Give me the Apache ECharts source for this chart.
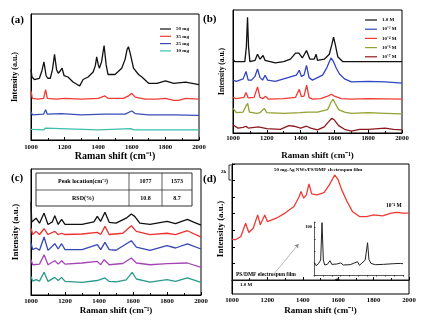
<!DOCTYPE html>
<html><head><meta charset="utf-8">
<script src="https://cdn.jsdelivr.net/npm/echarts@6/dist/echarts.min.js"></script>
<style>html,body{margin:0;padding:0;background:#fff}#c{width:421px;height:326px}</style>
</head><body><div id="c"></div>
<script>
// ---------- data ----------
const xTicks = [1000, 1200, 1400, 1600, 1800, 2000];
// panel (a)
const legendA = ['50 mg', '35 mg', '25 mg', '10 mg'];
const a50 = [[1000,56],[1006,50],[1020,48],[1050,49],[1065,55],[1077,62],[1090,51],[1100,49],[1115,49],[1128,56],[1140,68],[1152,56],[1162,53],[1175,55],[1185,57],[1197,51],[1220,50],[1250,46],[1275,44],[1290,43],[1310,48],[1340,50],[1370,54],[1383,59],[1391,66],[1400,60],[1407,57],[1420,62],[1435,75],[1447,60],[1458,52],[1500,52],[1540,57],[1560,64],[1572,72],[1580,74],[1592,68],[1610,57],[1640,52],[1660,50],[1700,45],[1750,45],[1800,47],[1850,45],[1920,46],[1960,45],[2000,44]];
const a35 = [[1000,39],[1008,33],[1040,32.5],[1075,33],[1087,40],[1097,33],[1150,32.5],[1200,33],[1300,32.5],[1400,33],[1440,35],[1460,33],[1550,33],[1580,35],[1600,37],[1620,34],[1680,32.5],[1750,32.5],[1800,33],[1850,31.5],[1880,31.5],[1920,33],[2000,32.5]];
const a25 = [[1000,22.5],[1008,20],[1075,20.5],[1087,24],[1097,20.5],[1180,21],[1300,20],[1440,20.5],[1560,20.5],[1600,23],[1620,21],[1700,20],[1850,20],[2000,19.5]];
const a10 = [[1000,8.5],[1075,8],[1087,9.5],[1097,8],[1400,8],[1595,9],[1610,8],[2000,8]];
// panel (b)
const legendB = ['1.0 M', '10\u207B\u00B2 M', '10\u207B\u2074 M', '10\u207B\u2076 M', '10\u207B\u2077 M'];
const b0 = [[1000,60],[1010,58],[1070,58],[1079,70],[1086,94],[1092,70],[1100,58],[1130,59],[1145,64],[1160,60],[1178,63],[1190,59],[1250,57],[1300,58],[1340,60],[1370,65],[1390,65],[1410,61],[1435,67],[1455,60],[1480,60],[1492,64],[1500,59],[1540,60],[1570,64],[1585,72],[1595,78],[1605,72],[1620,62],[1650,58],[1700,58],[2000,58]];
const b2 = [[1000,43],[1020,42],[1060,44],[1077,50],[1090,43],[1110,43],[1130,46],[1145,52],[1160,45],[1175,43],[1190,47],[1205,43],[1250,42],[1300,44],[1350,46],[1375,47],[1392,51],[1405,46],[1420,47],[1435,55],[1450,45],[1470,43],[1500,45],[1530,47],[1555,53],[1570,58],[1580,61],[1595,58],[1610,53],[1630,48],[1660,44],[1700,41.5],[1800,42],[1900,41.5],[2000,40.5]];
const b4 = [[1000,29],[1020,28],[1065,29],[1077,33],[1090,28.5],[1125,29],[1145,37.5],[1160,29],[1178,28],[1192,30],[1210,27.5],[1300,28],[1370,29],[1392,35.5],[1405,29.5],[1420,30],[1436,39],[1450,29],[1470,27.5],[1520,28],[1560,30],[1582,31.5],[1600,30],[1640,28],[1700,27.5],[1800,28],[2000,27.5]];
const b6 = [[1000,20],[1020,16.5],[1060,17],[1077,22],[1087,24],[1097,17],[1140,16],[1160,16.5],[1185,20],[1200,16.5],[1300,16],[1400,16.5],[1440,17],[1500,17],[1560,19],[1580,25],[1592,27.5],[1605,24],[1625,19],[1660,17],[1700,16],[1800,16.5],[1900,16],[2000,15.5]];
const b7 = [[1000,6.5],[1030,4],[1060,4.5],[1077,5.5],[1090,4],[1150,5],[1200,3.5],[1280,3],[1330,6],[1360,5.5],[1400,4],[1435,5.5],[1460,4],[1500,2.5],[1540,5],[1565,9],[1585,12],[1600,10.5],[1625,6],[1660,3],[1700,1.5],[1750,3],[1800,3],[1900,4],[1950,3],[2000,2.5]];
// panel (c)
const tableHead = ['Peak location(cm\u207B\u00B9)', '1077', '1573'];
const tableRow = ['RSD(%)', '10.8', '8.7'];
const c1 = [[1000,74],[1004,58],[1030,61],[1050,57],[1077,65],[1100,56],[1125,58],[1140,63],[1160,56],[1180,60],[1200,56],[1300,56],[1370,58],[1390,62.4],[1410,58.5],[1435,65.6],[1460,57.7],[1500,57],[1560,61],[1590,64.3],[1610,62.4],[1640,57],[1700,56],[1800,58.5],[1850,56.6],[1920,60],[1960,57.7],[2000,55.5]];
const c2 = [[1000,53],[1010,48],[1030,50.5],[1050,48],[1077,52.6],[1100,48],[1140,50.5],[1160,48],[1180,49],[1200,48],[1300,48.4],[1390,49.7],[1410,48],[1435,54.5],[1460,48],[1540,49],[1590,55],[1620,50.5],[1700,47.9],[1800,49],[1850,47.9],[1920,51],[2000,46]];
const c3 = [[1000,41.3],[1010,36],[1030,37.3],[1050,35.5],[1077,46],[1100,35.4],[1140,40.7],[1160,36.5],[1180,40.7],[1200,36],[1300,36],[1390,39.9],[1410,36],[1435,41.8],[1460,36],[1500,35.5],[1590,43.1],[1620,38],[1700,35.4],[1800,39.1],[1850,37.3],[1920,40.5],[2000,36.5]];
const c4 = [[1000,28],[1010,24],[1050,24.5],[1077,32],[1100,24],[1140,27.2],[1160,24.5],[1180,27.2],[1200,24.5],[1300,25.4],[1390,26.7],[1410,24],[1430,28],[1460,24],[1540,25],[1590,29.4],[1620,25.4],[1700,24],[1800,24.9],[1920,25.4],[2000,22]];
const c5 = [[1000,14.8],[1010,11],[1030,12.2],[1050,11],[1077,18],[1100,10.8],[1140,14],[1160,11.5],[1180,14],[1200,10.8],[1300,10],[1390,11.5],[1435,13.5],[1460,10.8],[1500,10.5],[1560,12],[1595,18],[1620,12.7],[1700,10.3],[1800,12.2],[1850,10.8],[1920,13.5],[2000,10]];
// panel (d)  (units: 2k counts per tick)
const dFilm = [[1000,2.47],[1020,2.43],[1050,2.63],[1077,3.43],[1095,2.87],[1120,3.13],[1145,3.93],[1160,3.33],[1185,3.93],[1200,3.53],[1250,3.73],[1300,4.04],[1350,4.44],[1380,5.04],[1390,5.34],[1405,4.94],[1420,5.14],[1435,5.8],[1450,5.2],[1480,5.14],[1520,5.28],[1550,5.74],[1580,6.34],[1600,6.04],[1620,5.44],[1650,4.74],[1680,4.14],[1720,3.83],[1760,3.83],[1800,3.93],[1850,3.87],[1900,4.04],[1930,4.08],[1970,4.04],[2000,4.04]];
const dBlank = [[1000,0],[1080,0],[1088,0.05],[1096,0],[1580,0],[1595,0.06],[1610,0],[2000,0]];
const dTicks = [0, 1, 2, 3, 4, 5, 6, 7];
// inset of (d): 1.0 M spectrum
const inset = [[1000,25.5],[1023,19.4],[1049,23.2],[1075,31],[1090,108.6],[1105,31],[1120,20.8],[1150,22.1],[1180,29.7],[1200,22],[1256,22.8],[1300,25],[1330,20.8],[1406,21.4],[1489,27.6],[1511,20.1],[1575,31],[1602,67],[1617,32.4],[1640,24],[1690,21.4],[1782,22.1],[1895,23.5],[1970,24],[2000,23.5]];

// ---------- chart ----------
const FONT = 'Liberation Serif';
const chart = echarts.init(document.getElementById('c'), null, {renderer: 'canvas'});
function grid(l, t, w, h, border) {
  return {left: l, top: t, width: w, height: h, show: border, borderColor: '#000', borderWidth: 1, backgroundColor: 'transparent', containLabel: false};
}
function xAx(gi, labelMargin, nameGap, nameSize) {
  return {type: 'value', gridIndex: gi, min: 1000, max: 2000, interval: 200,
    axisLine: {show: true, lineStyle: {color: '#000', width: 1}},
    axisTick: {inside: true, length: 3, lineStyle: {color: '#000'}},
    minorTick: {show: true, splitNumber: 2, length: 2, lineStyle: {color: '#000'}},
    splitLine: {show: false},
    axisLabel: {margin: labelMargin, fontFamily: FONT, fontWeight: 'bold', fontSize: 6.8, color: '#000', formatter: v => String(v)},
    name: 'Raman shift (cm\u207B\u00B9)', nameLocation: 'middle', nameGap: nameGap,
    nameTextStyle: {fontFamily: FONT, fontWeight: 'bold', fontSize: nameSize, color: '#000'}};
}
function yAx(gi, nameGap, nameSize) {
  return {type: 'value', gridIndex: gi, min: 0, max: 100,
    axisLine: {show: true, lineStyle: {color: '#000'}}, axisTick: {show: false},
    axisLabel: {show: false}, splitLine: {show: false},
    name: 'Intensity (a.u.)', nameLocation: 'middle', nameGap: nameGap,
    nameTextStyle: {fontFamily: FONT, fontWeight: 'bold', fontSize: nameSize, color: '#000'}};
}
function line(name, data, color, xi) {
  return {type: 'line', name: name, data: data, xAxisIndex: xi, yAxisIndex: xi, symbol: 'none',
    lineStyle: {color: color, width: 1.3}, itemStyle: {color: color}, silent: true, animation: false};
}
const legendText = {fontFamily: FONT, fontWeight: 'bold', fontSize: 5, color: '#000', lineHeight: 6};

const yD = {type: 'value', gridIndex: 3, min: -0.84, max: 7,
  axisLine: {show: true, lineStyle: {color: '#000'}},
  axisTick: {show: true, inside: true, length: 3, customValues: dTicks, lineStyle: {color: '#000'}},
  axisLabel: {show: false}, splitLine: {show: false},
  name: 'Intensity (a.u.)', nameLocation: 'middle', nameGap: 7,
  nameTextStyle: {fontFamily: FONT, fontWeight: 'bold', fontSize: 9, color: '#000'}};

const option = {
  animation: false,
  backgroundColor: '#fff',
  grid: [grid(31, 14, 168, 126, true), grid(233, 10, 169, 123, true), grid(31, 169, 170, 126, true), grid(232, 164, 177, 130, true), grid(314, 222, 89, 53, false)],
  xAxis: [xAx(0, 4, 10, 10), xAx(1, 2, 18, 9), xAx(2, 3, 11, 9), xAx(3, 3, 12, 9),
    {type: 'value', gridIndex: 4, min: 1000, max: 2000, interval: 100,
     axisLine: {lineStyle: {color: '#333', width: 0.8}}, axisTick: {length: 1.5, lineStyle: {color: '#333'}},
     axisLabel: {show: false}, splitLine: {show: false}}],
  yAxis: [yAx(0, 12, 8), yAx(1, 7, 7.5), yAx(2, 11, 9), yD,
    {type: 'value', gridIndex: 4, min: 0, max: 110, interval: 25,
     axisLine: {show: true, lineStyle: {color: '#333', width: 0.8}}, axisTick: {inside: true, length: 1.5, lineStyle: {color: '#333'}},
     axisLabel: {fontFamily: FONT, fontWeight: 'bold', fontSize: 4.5, color: '#000', margin: 2, formatter: v => v === 100 ? '100' : ''},
     splitLine: {show: false}}],
  legend: [
    {data: legendA, left: 155, top: 21, orient: 'vertical', icon: 'rect', itemWidth: 11, itemHeight: 1.2, itemGap: 1.3, textStyle: legendText, selectedMode: false},
    {data: legendB, left: 360, top: 12, orient: 'vertical', icon: 'rect', itemWidth: 12, itemHeight: 1.2, itemGap: 3.2, textStyle: legendText, selectedMode: false}
  ],
  series: [
    line('50 mg', a50, '#111111', 0), line('35 mg', a35, '#ee3b34', 0), line('25 mg', a25, '#3a4db5', 0), line('10 mg', a10, '#3dbfae', 0),
    line('1.0 M', b0, '#111111', 1), line(legendB[1], b2, '#2f45c2', 1), line(legendB[2], b4, '#f23a33', 1), line(legendB[3], b6, '#93a032', 1), line(legendB[4], b7, '#8e1a1f', 1),
    line('c1', c1, '#111111', 2), line('c2', c2, '#ee3030', 2), line('c3', c3, '#3447b5', 2), line('c4', c4, '#a545b5', 2), line('c5', c5, '#2a9a8c', 2),
    line('film', dFilm, '#f03a33', 3),
    Object.assign(line('blank', dBlank, '#222222', 3), {markLine: {silent: true, symbol: ['none', 'arrow'], symbolSize: 4, label: {show: false},
      lineStyle: {color: '#888', width: 0.6, type: 'solid'}, data: [[{coord: [1241, 0.42]}, {coord: [1376, 2.17]}]], animation: false}}),
    Object.assign(line('inset', inset, '#222222', 4), {lineStyle: {color: '#222222', width: 1}})
  ],
  graphic: [
    {type: 'text', left: 11, top: 15, style: {text: '(a)', font: 'bold 11px "Liberation Serif"', fill: '#000'}},
    {type: 'text', left: 203, top: 14, style: {text: '(b)', font: 'bold 11px "Liberation Serif"', fill: '#000'}},
    {type: 'text', left: 11, top: 173, style: {text: '(c)', font: 'bold 11px "Liberation Serif"', fill: '#000'}},
    {type: 'text', left: 203, top: 174, style: {text: '(d)', font: 'bold 11px "Liberation Serif"', fill: '#000'}},
    // table in (c)
    {type: 'rect', shape: {x: 36, y: 173, width: 156, height: 33}, style: {fill: '#fff', stroke: '#333', lineWidth: 1}},
    {type: 'line', shape: {x1: 36, y1: 190, x2: 192, y2: 190}, style: {stroke: '#333', lineWidth: 0.8}},
    {type: 'line', shape: {x1: 129, y1: 173, x2: 129, y2: 206}, style: {stroke: '#333', lineWidth: 0.8}},
    {type: 'line', shape: {x1: 162, y1: 173, x2: 162, y2: 206}, style: {stroke: '#333', lineWidth: 0.8}},
    {type: 'text', x: 83, y: 181.5, style: {text: tableHead[0], font: 'bold 6px "Liberation Serif"', fill: '#000', align: 'center', verticalAlign: 'middle'}},
    {type: 'text', x: 145.5, y: 181.5, style: {text: tableHead[1], font: 'bold 6px "Liberation Serif"', fill: '#000', align: 'center', verticalAlign: 'middle'}},
    {type: 'text', x: 177, y: 181.5, style: {text: tableHead[2], font: 'bold 6px "Liberation Serif"', fill: '#000', align: 'center', verticalAlign: 'middle'}},
    {type: 'text', x: 83, y: 198, style: {text: tableRow[0], font: 'bold 6px "Liberation Serif"', fill: '#000', align: 'center', verticalAlign: 'middle'}},
    {type: 'text', x: 145.5, y: 198, style: {text: tableRow[1], font: 'bold 6px "Liberation Serif"', fill: '#000', align: 'center', verticalAlign: 'middle'}},
    {type: 'text', x: 177, y: 198, style: {text: tableRow[2], font: 'bold 6px "Liberation Serif"', fill: '#000', align: 'center', verticalAlign: 'middle'}},
    // annotations in (d)
    {type: 'text', x: 318, y: 170, style: {text: '50 mg-Ag NWs/PS/DMF electrospun film', font: 'bold 5px "Liberation Serif"', fill: '#000', align: 'center', verticalAlign: 'middle'}},
    {type: 'text', x: 386, y: 206, style: {text: '10\u207B\u2074 M', font: 'bold 5.5px "Liberation Serif"', fill: '#000', verticalAlign: 'middle'}},
    {type: 'text', x: 236, y: 275, style: {text: 'PS/DMF electrospun film', font: 'bold 5.5px "Liberation Serif"', fill: '#000', verticalAlign: 'middle'}},
    {type: 'text', x: 240, y: 285, style: {text: '1.0 M', font: 'bold 5px "Liberation Serif"', fill: '#000', verticalAlign: 'middle'}},
    {type: 'text', x: 221, y: 172, style: {text: '2k', font: 'bold 5px "Liberation Serif"', fill: '#000', verticalAlign: 'middle'}},
    {type: 'polyline', shape: {points: [[231, 165], [229, 165], [229, 180], [231, 180]]}, style: {stroke: '#000', lineWidth: 0.8, fill: null}}
  ]
};
chart.setOption(option);
</script>
</body></html>
